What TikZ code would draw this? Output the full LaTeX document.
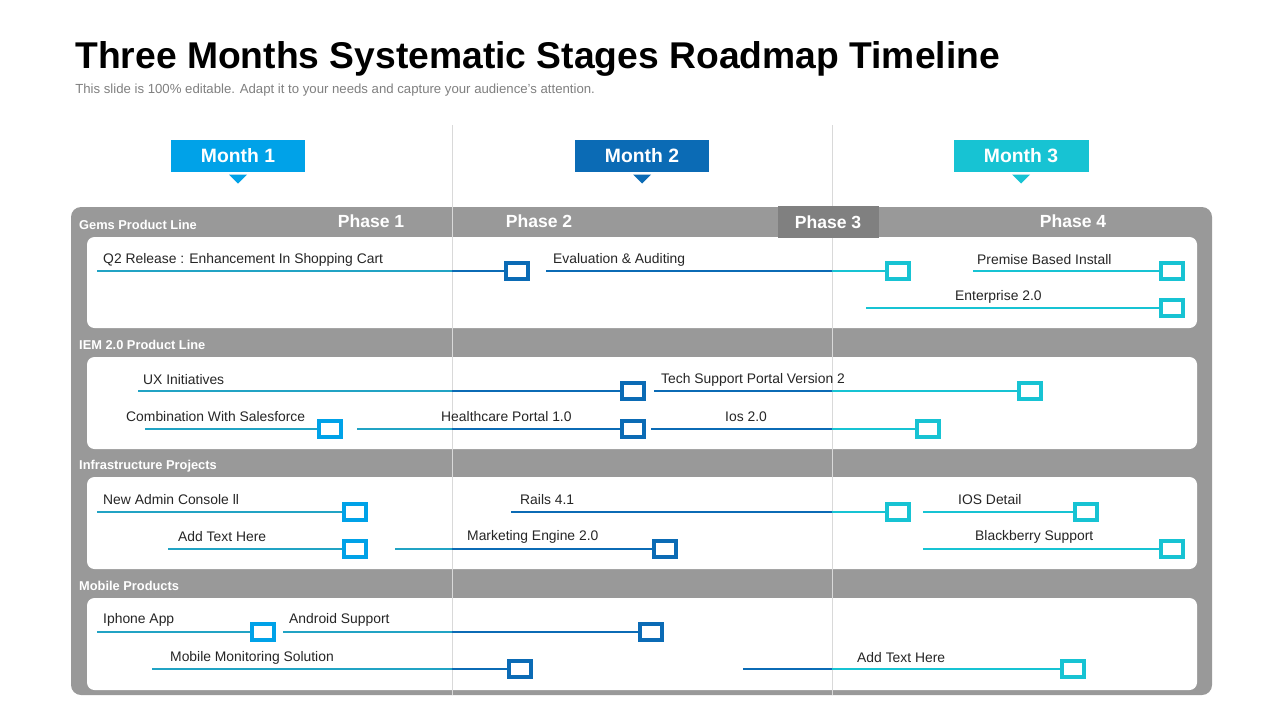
\documentclass[tikz,border=0pt]{standalone}
\usepackage{fontspec}
\setmainfont{Liberation Sans}
\usetikzlibrary{shapes.geometric}
\definecolor{mone}{RGB}{0,162,232}
\definecolor{mtwo}{RGB}{11,107,181}
\definecolor{mthree}{RGB}{23,195,211}
\definecolor{lineteal}{RGB}{33,163,196}
\definecolor{panelgray}{RGB}{153,153,153}
\definecolor{phasegray}{RGB}{128,128,128}

% road line: teal in month 1, dark blue in month 2, cyan in month 3
\newcommand{\roadline}[2]{%
  \draw[road,lineteal] (#1) -- (#2.west);
  \begin{scope}\clip (452,0) rectangle (832,720);
    \draw[road,mtwo] (#1) -- (#2.west);\end{scope}
  \begin{scope}\clip (832,0) rectangle (1280,720);
    \draw[road,mthree] (#1) -- (#2.west);\end{scope}}

\begin{document}
\begin{tikzpicture}
  [x=0.02cm,y=-0.02cm,
  %Styles
  month box/.style={fill=#1,text=white,minimum width=2.7cm,minimum height=0.66cm,inner sep=0,font=\bfseries\fontsize{11}{13}\selectfont},
  pointer/.style={isosceles triangle,isosceles triangle apex angle=90,shape border rotate=-90,fill=#1,inner sep=0,minimum width=0.36cm,minimum height=0.18cm},
  section text/.style={anchor=west,text=white,font=\bfseries\fontsize{7.3}{9}\selectfont},
  phase text/.style={text=white,font=\bfseries\fontsize{10}{12}\selectfont},
  item text/.style={anchor=west,font=\fontsize{7.9}{9}\selectfont,text=black!85},
  marker/.style={draw=#1,line width=0.09cm,fill=white,minimum width=0.44cm,minimum height=0.32cm,inner sep=0},
  road/.style={line width=0.04cm}
  ]
  \useasboundingbox[fill=white] (0,0) rectangle (1280,720);

  %Title
  \node[anchor=base west,inner sep=0,font=\bfseries\fontsize{21.2}{25}\selectfont] (title) at (75,68) {Three Months Systematic Stages Roadmap Timeline};
  \node[anchor=base west,inner sep=0,text=black!50,font=\fontsize{7.5}{9}\selectfont] (subtitle) at (75,93) {This slide is 100\% editable. Adapt it to your needs and capture your audience's attention.};

  %Panels
  \fill[panelgray,rounded corners=0.2cm] (71,207) rectangle (1212,695);
  \foreach \top/\bot in {237/328,357/449,477/569,598/690}
    \fill[white,rounded corners=0.15cm] (87,\top) rectangle (1197,\bot);
  \draw[black!15] (452,125) -- (452,695) (832,125) -- (832,695);

  %Months
  \foreach \name/\x/\col/\txt in {mA/238/mone/Month 1,mB/642/mtwo/Month 2,mC/1021/mthree/Month 3}{
    \node[month box=\col] (\name) at (\x,156) {\txt};
    \node[pointer=\col,anchor=apex] at (\x,184) {};}

  %Sections and phases
  \node[section text] (secA) at (73,225) {Gems Product Line};
  \node[section text] (secB) at (73,345) {IEM 2.0 Product Line};
  \node[section text] (secC) at (73,466) {Infrastructure Projects};
  \node[section text] (secD) at (73,586) {Mobile Products};
  \node[phase text] (ph1) at (371,221) {Phase 1};
  \node[phase text] (ph2) at (539,221) {Phase 2};
  \node[phase text,fill=phasegray,minimum width=2.02cm,minimum height=0.64cm] (ph3) at (828,222) {Phase 3};
  \node[phase text] (ph4) at (1073,221) {Phase 4};

  %Items: name/label x/label y/line start x/line y/marker x/colour/text
  \foreach \n/\tx/\ty/\sx/\ly/\mx/\col/\txt in {
    qtwo/97/260/97/271/517/mtwo/Q2 Release : Enhancement In Shopping Cart,
    eval/547/260/546/271/898/mthree/Evaluation \& Auditing,
    prem/971/260/973/271/1172/mthree/Premise Based Install,
    ent/949/297/866/308/1172/mthree/Enterprise 2.0,
    ux/137/380/138/391/633/mtwo/UX Initiatives,
    tech/655/380/654/391/1030/mthree/Tech Support Portal Version 2,
    comb/120/417/145/429/330/mone/Combination With Salesforce,
    health/435/417/357/429/633/mtwo/Healthcare Portal 1.0,
    ios/719/417/651/429/928/mthree/Ios 2.0,
    admin/97/500/97/512/355/mone/New Admin Console ll,
    rails/514/500/511/512/898/mthree/Rails 4.1,
    iosd/952/500/923/512/1086/mthree/IOS Detail,
    addA/172/537/168/549/355/mone/Add Text Here,
    mkt/461/537/395/549/665/mtwo/Marketing Engine 2.0,
    black/969/537/923/549/1172/mthree/Blackberry Support,
    iph/97/620/97/632/263/mone/Iphone App,
    andr/283/620/283/632/651/mtwo/Android Support,
    mon/164/658/152/669/520/mtwo/Mobile Monitoring Solution,
    addB/851/658/743/669/1073/mthree/Add Text Here}{
    \node[item text] (t-\n) at (\tx,\ty) {\txt};
    \coordinate (s-\n) at (\sx,\ly);
    \node[marker=\col] (m-\n) at (\mx,\ly) {};
    \roadline{s-\n}{m-\n}
    \node[marker=\col] at (m-\n) {};}
\end{tikzpicture}
\end{document}
